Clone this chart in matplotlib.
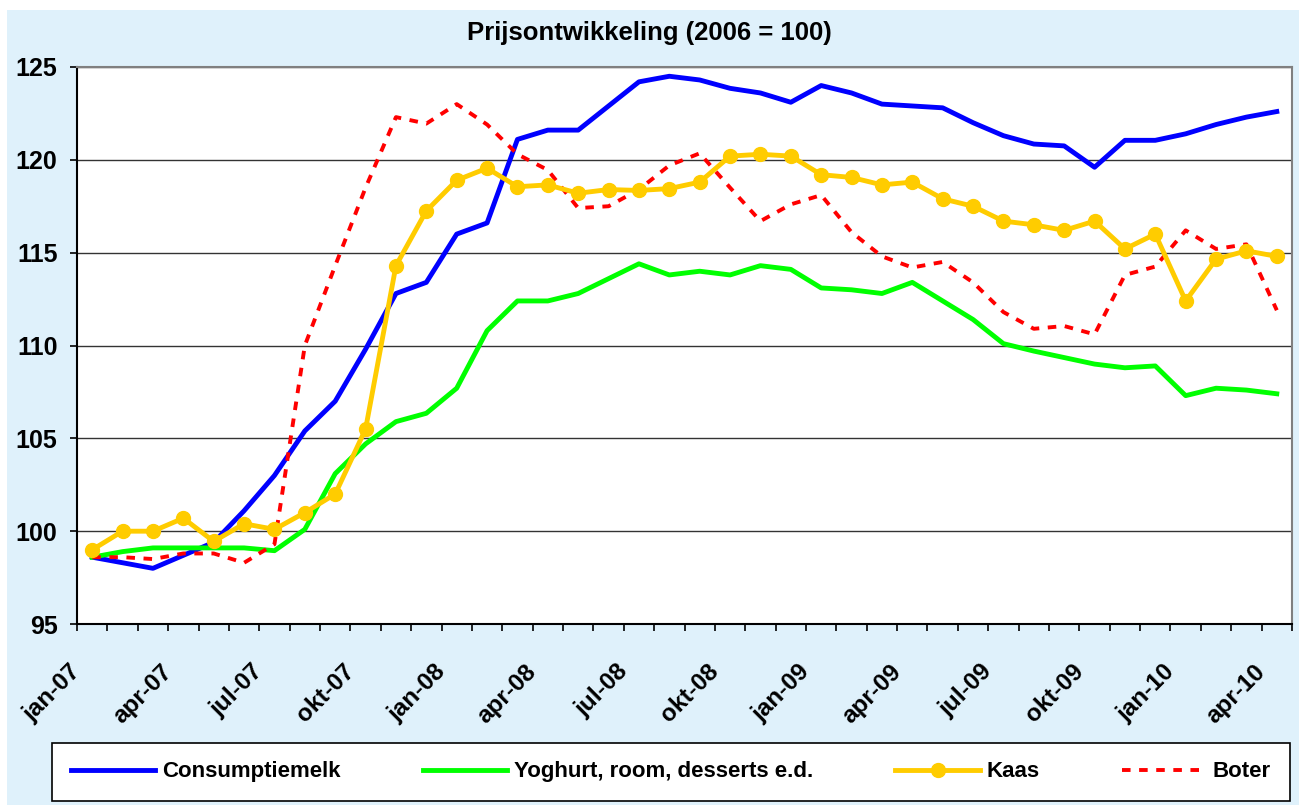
import matplotlib.pyplot as plt
import matplotlib.transforms as mtransforms
import numpy as np

plt.rcParams['font.family'] = ['Liberation Sans', 'DejaVu Sans']
plt.rcParams['font.weight'] = 'bold'

months = ['jan', 'feb', 'mrt', 'apr', 'mei', 'jun', 'jul', 'aug', 'sep', 'okt', 'nov', 'dec']
dates = [f'{m}-{y:02d}' for y in (7, 8, 9, 10) for m in months][:40]

consumptiemelk = [98.6, 98.3, 98.0, 98.7, 99.4, 101.1, 103.0, 105.4, 107.0, 109.8,
                  112.8, 113.4, 116.0, 116.6, 121.1, 121.6, 121.6, 122.9, 124.2, 124.5,
                  124.3, 123.85, 123.6, 123.1, 124.0, 123.6, 123.0, 122.9, 122.8, 122.0,
                  121.3, 120.85, 120.75, 119.6, 121.05, 121.05, 121.4, 121.9, 122.3, 122.6]
yoghurt = [98.6, 98.9, 99.1, 99.1, 99.1, 99.1, 98.95, 100.1, 103.1, 104.7,
           105.9, 106.35, 107.7, 110.8, 112.4, 112.4, 112.8, 113.6, 114.4, 113.8,
           114.0, 113.8, 114.3, 114.1, 113.1, 113.0, 112.8, 113.4, 112.4, 111.4,
           110.1, 109.7, 109.35, 109.0, 108.8, 108.9, 107.3, 107.7, 107.6, 107.4]
kaas = [99.0, 100.0, 100.0, 100.7, 99.45, 100.4, 100.1, 101.0, 102.0, 105.5,
        114.3, 117.25, 118.9, 119.55, 118.55, 118.65, 118.2, 118.4, 118.35, 118.45,
        118.8, 120.2, 120.3, 120.2, 119.2, 119.05, 118.65, 118.8, 117.9, 117.5,
        116.7, 116.5, 116.2, 116.7, 115.2, 116.0, 112.4, 114.65, 115.1, 114.8]
boter = [98.6, 98.6, 98.5, 98.8, 98.8, 98.3, 99.3, 110.0, 114.3, 118.5,
         122.3, 121.95, 123.0, 121.9, 120.3, 119.45, 117.4, 117.5, 118.4, 119.7,
         120.35, 118.5, 116.7, 117.6, 118.1, 116.1, 114.8, 114.2, 114.5, 113.4,
         111.8, 110.9, 111.05, 110.6, 113.8, 114.25, 116.2, 115.2, 115.45, 111.9]

bg = '#DFF1FB'
fig = plt.figure(figsize=(12.99, 8.05), dpi=100, facecolor='white')
fig.patches.append(plt.Rectangle((7 / 1299, 0), 1, 1 - 10 / 805, transform=fig.transFigure,
                                 facecolor=bg, edgecolor='none', zorder=-10))
ax = fig.add_axes([0.0593, 0.2248, 0.9353, 0.692])

x = np.arange(len(dates))
ax.plot(x, consumptiemelk, color='#0000FF', lw=3.5, label='Consumptiemelk', zorder=3)
ax.plot(x, yoghurt, color='#00FF00', lw=3.5, label='Yoghurt, room, desserts e.d.', zorder=3)
ax.plot(x, kaas, color='#FFCC00', lw=3.5, marker='o', ms=10, label='Kaas', zorder=4)
ax.plot(x, boter, color='#FF0000', lw=2.8, ls=(0, (2.2, 2.2)), label='Boter', zorder=3)

ax.set_xlim(-0.5, len(dates) - 0.5)
ax.set_ylim(95, 125)
ax.set_yticks(range(95, 126, 5))
ax.yaxis.grid(True, color='#333333', lw=1)
ax.set_axisbelow(True)

ax.set_xticks(x[::3])
ax.set_xticklabels(dates[::3], rotation=45, ha='right', va='center', rotation_mode='anchor')
ax.set_xticks(np.arange(-0.5, len(dates)), minor=True)
ax.tick_params(axis='x', which='major', length=0, pad=0, labelsize=17.5)
ax.tick_params(axis='x', which='minor', length=5, width=1.2, color='black')
ax.tick_params(axis='y', length=5, width=1.2, pad=9, labelsize=18)
offset = mtransforms.ScaledTranslation(-0.15, -0.44, fig.dpi_scale_trans)
for lab in ax.get_xticklabels():
    lab.set_transform(lab.get_transform() + offset)

for s in ('top', 'right'):
    ax.spines[s].set_color('#808080')
    ax.spines[s].set_linewidth(1.5)
for s in ('left', 'bottom'):
    ax.spines[s].set_color('black')
    ax.spines[s].set_linewidth(1.5)

fig.text(0.5, 0.959, 'Prijsontwikkeling (2006 = 100)', ha='center', va='center',
         fontsize=18.5, fontweight='bold')

leg = fig.legend(loc='center', bbox_to_anchor=(0.04, 0.007, 0.953, 0.068), mode='expand',
                 ncol=4, fontsize=16, handlelength=3.8, handletextpad=0.3, frameon=True,
                 fancybox=False, borderaxespad=0, columnspacing=2, borderpad=0.85,
                 framealpha=1, facecolor='white')
leg.get_frame().set_edgecolor('black')
leg.get_frame().set_linewidth(1.2)

fig.savefig('out.png', dpi=100, facecolor='white')
